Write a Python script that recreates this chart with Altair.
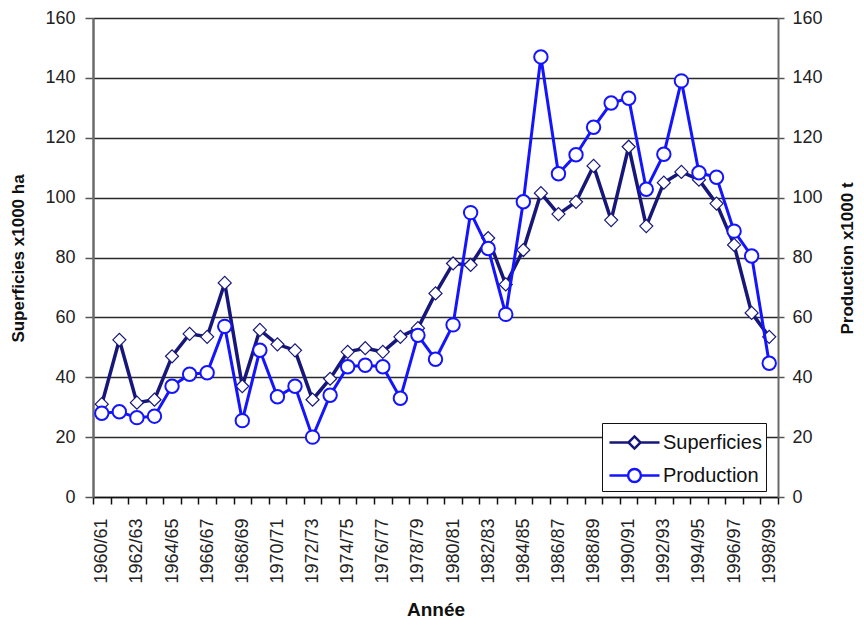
import altair as alt
import pandas as pd

annees = [f"{y}/{(y + 1) % 100:02d}" for y in range(1960, 1999)]

superficies = [31, 52.5, 31.5, 32.5, 47, 54.5, 53.5, 71.5, 37, 55.8,
               51, 49, 32.5, 39.5, 48.5, 49.7, 48.5, 53.5, 56.4, 68,
               78, 77.5, 86.5, 71, 82.5, 101.5, 94.5, 98.6, 110.6, 92.5,
               117, 90.5, 105, 108.6, 106, 98, 84.2, 61.5, 53.5]

production = [28, 28.5, 26.5, 27, 37, 41, 41.5, 57, 25.5, 49,
              33.5, 37, 20, 34, 43.5, 44, 43.5, 33, 54, 46,
              57.5, 95, 83, 61, 98.6, 147, 108, 114.3, 123.5, 131.6,
              133.2, 102.8, 114.5, 139, 108.3, 106.8, 88.8, 80.5, 44.7]

series = ["Superficies", "Production"]
couleurs = ["#17177a", "#1414ff"]

df_sup = pd.DataFrame({"annee": annees, "valeur": superficies})
df_prod = pd.DataFrame({"annee": annees, "valeur": production})
df_leg = pd.DataFrame({"serie": series})

FONT = "Liberation Sans"
yticks = list(range(0, 161, 20))

x_enc = alt.X(
    "annee:N", sort=None,
    scale=alt.Scale(type="band", paddingInner=0, paddingOuter=0),
    axis=alt.Axis(
        title="Année", labelAngle=270, labelFontSize=18, labelFont=FONT,
        labelColor="#222", labelPadding=14, tickBand="extent", tickSize=7,
        tickColor="#111", tickWidth=1.5, domainColor="#111", domainWidth=1.5,
        labelExpr="toNumber(substring(datum.value,0,4)) % 2 == 0 ? datum.value : ''",
        titleFontSize=19, titleFont=FONT, titleFontWeight="bold", titleColor="#111",
        titleY=112, titleBaseline="middle", grid=False,
    ),
)

y_left = alt.Y(
    "valeur:Q",
    scale=alt.Scale(domain=[0, 160], nice=False),
    axis=alt.Axis(
        title="Superficies x1000 ha", values=yticks, grid=True,
        gridColor="#2a2a2a", gridWidth=1.5, gridOpacity=1,
        labelFontSize=18, labelFont=FONT, labelColor="#222", labelPadding=10,
        tickSize=8, tickColor="#555", tickWidth=1.5,
        domainColor="#6a6a6a", domainWidth=2.5,
        titleFontSize=17, titleFont=FONT, titleFontWeight="bold", titleColor="#111",
        titleAngle=270, titleX=-75, titleY=240, titleBaseline="middle", titleAlign="center",
    ),
)

y_right = alt.Y(
    "valeur:Q",
    scale=alt.Scale(domain=[0, 160], nice=False),
    axis=alt.Axis(
        title="Production x1000 t", orient="right", values=yticks, grid=False,
        labelFontSize=18, labelFont=FONT, labelColor="#222", labelPadding=8,
        tickSize=6, tickColor="#555", tickWidth=1.5,
        domainColor="#6a6a6a", domainWidth=2,
        titleFontSize=17, titleFont=FONT, titleFontWeight="bold", titleColor="#111",
        titleAngle=270, titleX=69, titleY=240, titleBaseline="middle", titleAlign="center",
    ),
)

sup_line = alt.Chart(df_sup).mark_line(color=couleurs[0], strokeWidth=3.5).encode(x=x_enc, y=y_left)
sup_pts = alt.Chart(df_sup).mark_point(
    shape="diamond", size=170, filled=True, fill="white", stroke=couleurs[0],
    strokeWidth=1.2, opacity=1
).encode(x=x_enc, y=y_left)

prod_line = alt.Chart(df_prod).mark_line(color=couleurs[1], strokeWidth=3).encode(x=x_enc, y=y_right)
prod_pts = alt.Chart(df_prod).mark_point(
    shape="circle", size=180, filled=True, fill="white", stroke=couleurs[1],
    strokeWidth=2, opacity=1
).encode(x=x_enc, y=y_right)

leg_shapes = [
    "M-1.786,0L-0.43,0M0.43,0L1.786,0M-0.43,0L0,-0.43L0.43,0L0,0.43Z",
    "M-1.786,0L-0.46,0M0.46,0L1.786,0M0.46,0A0.46,0.46 0 1,1 -0.46,0A0.46,0.46 0 1,1 0.46,0",
]

leg_props = dict(
    title=None, orient="none", legendX=509, legendY=405,
    labelFontSize=20, labelFont=FONT, labelColor="#111",
    symbolSize=784, symbolStrokeWidth=2.5, symbolOpacity=1,
    symbolOffset=13, labelOffset=13, rowPadding=6, padding=4,
    strokeColor="#111", fillColor="white",
)

legend_layer = alt.Chart(df_leg).mark_point(clip=True, filled=False, strokeWidth=2.5).encode(
    x=alt.value(-2000),
    y=alt.value(-2000),
    color=alt.Color("serie:N", scale=alt.Scale(domain=series, range=couleurs),
                    legend=alt.Legend(**leg_props)),
    shape=alt.Shape("serie:N", scale=alt.Scale(domain=series, range=leg_shapes),
                    legend=alt.Legend(**leg_props)),
)

left = alt.layer(sup_line, sup_pts)
right = alt.layer(prod_line, prod_pts, legend_layer)

chart = alt.layer(left, right).resolve_scale(y="independent").properties(
    width=685, height=479,
    autosize=alt.AutoSizeParams(type="none"),
    padding={"left": 85, "top": 10, "right": 78, "bottom": 124},
).configure_view(stroke=None).configure(background="white")

chart.save("out.html", embed_options={"renderer": "svg", "actions": False})
